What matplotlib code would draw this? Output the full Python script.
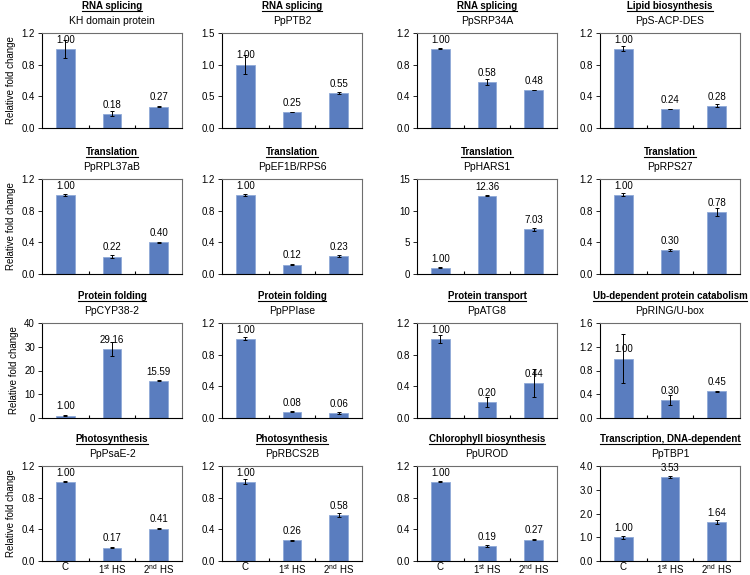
import matplotlib
matplotlib.use("Agg")
import matplotlib.pyplot as plt
from matplotlib.lines import Line2D
from matplotlib.ticker import FormatStrFormatter, MultipleLocator, FixedLocator

plt.rcParams['font.family'] = ['Liberation Sans', 'DejaVu Sans']
plt.rcParams['mathtext.fontset'] = 'custom'
plt.rcParams['mathtext.rm'] = 'Liberation Sans'

# ---- data ----
groups = ["C", "1$^{\\rm st}$ HS", "2$^{\\rm nd}$ HS"]

processes = [
    "RNA splicing", "RNA splicing", "RNA splicing", "Lipid biosynthesis",
    "Translation", "Translation", "Translation", "Translation",
    "Protein folding", "Protein folding", "Protein transport", "Ub-dependent protein catabolism",
    "Photosynthesis", "Photosynthesis", "Chlorophyll biosynthesis", "Transcription, DNA-dependent",
]
genes = [
    "KH domain protein", "PpPTB2", "PpSRP34A", "PpS-ACP-DES",
    "PpRPL37aB", "PpEF1B/RPS6", "PpHARS1", "PpRPS27",
    "PpCYP38-2", "PpPPIase", "PpATG8", "PpRING/U-box",
    "PpPsaE-2", "PpRBCS2B", "PpUROD", "PpTBP1",
]
means = [
    [1.00, 0.18, 0.27], [1.00, 0.25, 0.55], [1.00, 0.58, 0.48], [1.00, 0.24, 0.28],
    [1.00, 0.22, 0.40], [1.00, 0.12, 0.23], [1.00, 12.36, 7.03], [1.00, 0.30, 0.78],
    [1.00, 29.16, 15.59], [1.00, 0.08, 0.06], [1.00, 0.20, 0.44], [1.00, 0.30, 0.45],
    [1.00, 0.17, 0.41], [1.00, 0.26, 0.58], [1.00, 0.19, 0.27], [1.00, 3.53, 1.64],
]
errors = [
    [0.11, 0.03, 0.005], [0.15, 0.005, 0.02], [0.005, 0.04, 0.005], [0.03, 0.005, 0.02],
    [0.01, 0.02, 0.01], [0.01, 0.01, 0.01], [0.05, 0.10, 0.30], [0.02, 0.01, 0.05],
    [0.10, 3.0, 0.20], [0.02, 0.005, 0.01], [0.05, 0.06, 0.18], [0.41, 0.08, 0.01],
    [0.005, 0.005, 0.005], [0.03, 0.005, 0.03], [0.005, 0.01, 0.01], [0.07, 0.05, 0.10],
]
# y axis: (max, step, tick format)
yaxes = [
    (1.2, 0.4, "%.1f"), (1.5, 0.5, "%.1f"), (1.2, 0.4, "%.1f"), (1.2, 0.4, "%.1f"),
    (1.2, 0.4, "%.1f"), (1.2, 0.4, "%.1f"), (15, 5, "%d"), (1.2, 0.4, "%.1f"),
    (40, 10, "%d"), (1.2, 0.4, "%.1f"), (1.2, 0.4, "%.1f"), (1.6, 0.4, "%.1f"),
    (1.2, 0.4, "%.1f"), (1.2, 0.4, "%.1f"), (1.2, 0.4, "%.1f"), (4.0, 1.0, "%.1f"),
]

bar_color = "#5a7dbf"
W, H = 750, 575
col_left = [42, 222, 417, 600]
ax_w = 140
row_top = [33, 179, 323, 466]
ax_h = 95

fig = plt.figure(figsize=(W / 100, H / 100), dpi=100)

axes = []
for i in range(16):
    r, c = divmod(i, 4)
    left = col_left[c] / W
    bottom = 1 - (row_top[r] + ax_h) / H
    ax = fig.add_axes([left, bottom, ax_w / W, ax_h / H])
    axes.append(ax)

    x = range(3)
    ax.bar(x, means[i], width=0.4, color=bar_color, edgecolor="#8fa9d8", linewidth=0.6, zorder=2)
    ax.errorbar(x, means[i], yerr=errors[i], fmt="none", ecolor="black",
                elinewidth=0.7, capsize=1.5, capthick=0.7, zorder=3)
    for xi, m in zip(x, means[i]):
        ax.annotate(f"{m:.2f}", (xi, m), xytext=(0, 3), textcoords="offset points",
                    ha="center", va="bottom", fontsize=7, zorder=4)

    ymax, step, fmt = yaxes[i]
    ax.set_ylim(0, ymax)
    ax.set_xlim(-0.5, 2.5)
    ax.yaxis.set_major_locator(MultipleLocator(step))
    ax.yaxis.set_major_formatter(FormatStrFormatter(fmt))
    ax.tick_params(axis="y", labelsize=7, length=3, width=0.6, direction="out", pad=2)
    ax.xaxis.set_minor_locator(FixedLocator([0.5, 1.5]))
    ax.tick_params(axis="x", which="minor", length=2.5, width=0.8, direction="in")
    ax.set_xticks(list(x))
    ax.tick_params(axis="x", which="major", length=0, pad=1, labelsize=7)
    if r == 3:
        ax.set_xticklabels(groups)
    else:
        ax.set_xticklabels([])

    for side in ["left", "bottom"]:
        ax.spines[side].set_color("black")
        ax.spines[side].set_linewidth(0.8)
    for side in ["top", "right"]:
        ax.spines[side].set_color("#6e6e6e")
        ax.spines[side].set_linewidth(0.8)

    if c == 0:
        ax.set_ylabel("Relative fold change", fontsize=7, labelpad=4)

    ax.text(0.5, 1 + 27 / ax_h, processes[i], transform=ax.transAxes,
            ha="center", va="center", fontsize=7, fontweight="bold")
    ax.text(0.5, 1 + 12 / ax_h, genes[i], transform=ax.transAxes,
            ha="center", va="center", fontsize=7.5)

# underline the process titles
fig.canvas.draw()
renderer = fig.canvas.get_renderer()
for ax in axes:
    t = ax.texts[-2]
    bb = t.get_window_extent(renderer)
    y = (bb.y0 + 0.5) / H
    fig.add_artist(Line2D([bb.x0 / W, bb.x1 / W], [y, y], color="black", linewidth=0.8))

fig.savefig("out.png", dpi=100)
